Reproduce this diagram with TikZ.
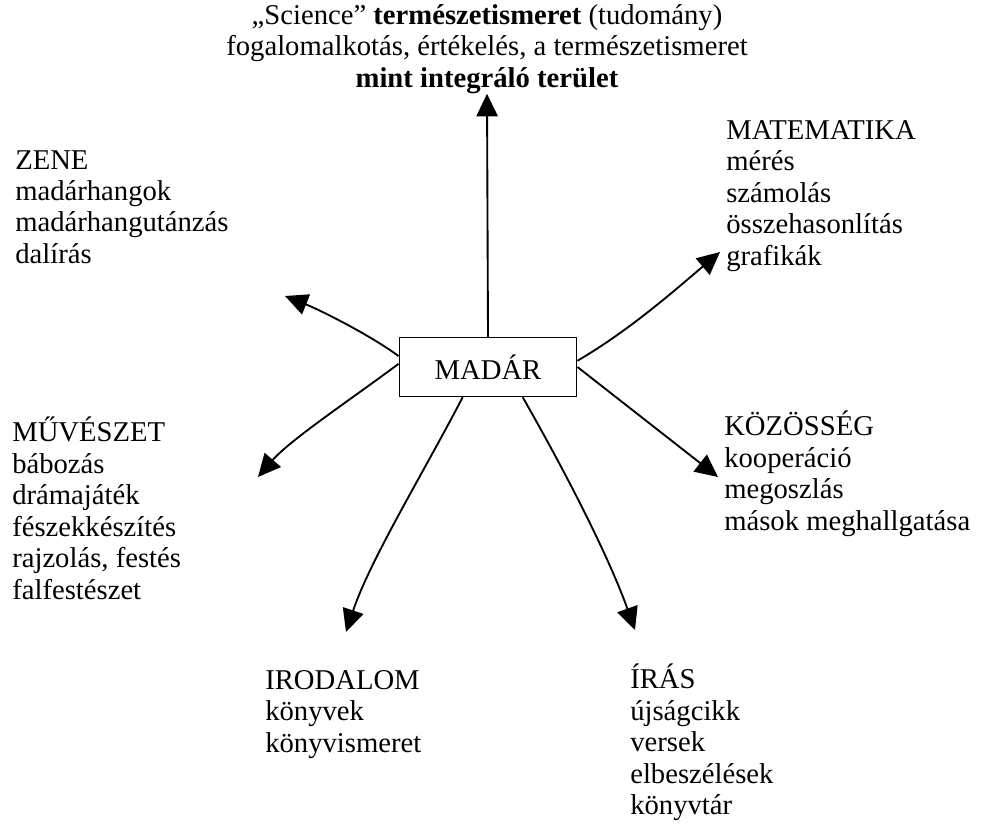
\documentclass[tikz,border=0pt]{standalone}
\usepackage{fontspec}
\setmainfont{Liberation Serif}
\usetikzlibrary{arrows.meta,calc}

\begin{document}
\begin{tikzpicture}[
    x=0.75pt, y=-0.75pt,
    >={Triangle[length=17pt,width=16pt]},
    every node/.style={font=\fontsize{21.5}{23.6}\selectfont},
    topicbox/.style={draw, line width=1.2pt, minimum width=133pt, minimum height=44pt, inner sep=0pt},
    topictext/.style={anchor=north west, align=left, inner sep=0pt},
    linkedge/.style={->, line width=1.4pt}
]
\useasboundingbox (0,0) rectangle (982,826);
\node[topicbox] (madar) at (488,367) {MADÁR\hspace{15pt}};
\node[anchor=north, align=center, inner sep=0pt] (science) at (487,4)
  {„Science” \textbf{természetismeret} (tudomány)\\
   fogalomalkotás, értékelés, a természetismeret\\
   \textbf{mint integráló terület}};
\node[topictext] (zene) at (15,150) {ZENE\\madárhangok\\madárhangutánzás\\dalírás};
\node[topictext] (matek) at (726,120) {MATEMATIKA\\mérés\\számolás\\összehasonlítás\\grafikák};
\node[topictext] (muveszet) at (12,417) {MŰVÉSZET\\bábozás\\drámajáték\\fészekkészítés\\rajzolás, festés\\falfestészet};
\node[topictext] (kozosseg) at (724,411) {KÖZÖSSÉG\\kooperáció\\megoszlás\\mások meghallgatása};
\node[topictext] (irodalom) at (265,670) {IRODALOM\\könyvek\\könyvismeret};
\node[topictext] (iras) at (630,664) {ÍRÁS\\újságcikk\\versek\\elbeszélések\\könyvtár};
% arrow tips
\coordinate (zenetip) at (285,296);
\coordinate (matektip) at (720,252);
\coordinate (muvtip) at (258,477);
\coordinate (koztip) at (718,477);
\coordinate (irodtip) at (346,632);
\coordinate (irastip) at (635,630);
% connectors
\draw[linkedge] (madar.north) -- (science.south);
\draw[linkedge] (madar.173) .. controls (370,335) and (320,310) .. (zenetip);
\draw[linkedge] (madar.178) .. controls (350,400) and (290,440) .. (muvtip);
\draw[linkedge] (madar.4) .. controls (630,330) and (675,290) .. (matektip);
\draw[linkedge] (madar.east) -- (koztip);
\draw[linkedge] (madar.230) .. controls (425,470) and (370,560) .. (irodtip);
\draw[linkedge] (madar.319) .. controls (570,480) and (610,560) .. (irastip);
\end{tikzpicture}
\end{document}
